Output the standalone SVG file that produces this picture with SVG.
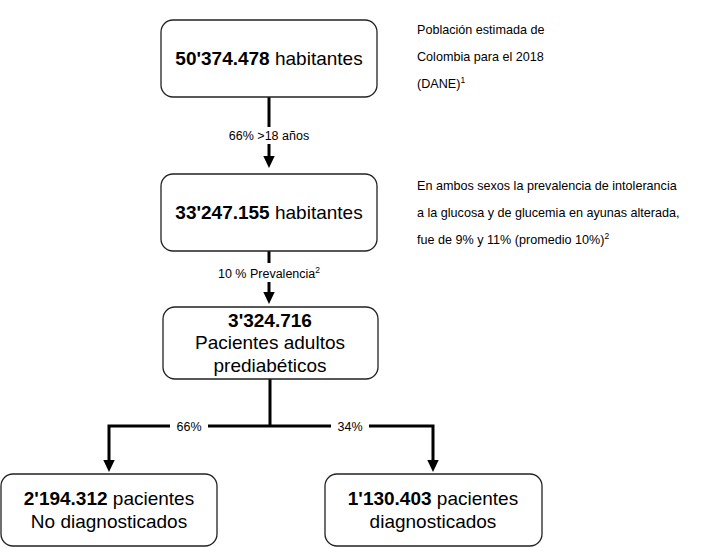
<svg xmlns="http://www.w3.org/2000/svg" width="708" height="548" viewBox="0 0 708 548">
<style>
text{font-family:"Liberation Sans",Arial,sans-serif;fill:#000}
.box{fill:#fff;stroke:#222;stroke-width:1.3}
.big{font-size:19px;text-anchor:middle}
.note{font-size:12.6px}
.lbl{font-size:12.5px;text-anchor:middle}
.ln{stroke:#000;stroke-width:3;fill:none}
</style>
<defs><marker id="a" markerWidth="5" markerHeight="5" refX="2" refY="2.5" orient="auto" markerUnits="strokeWidth"><path d="M0,0.6 L4,2.5 L0,4.4z" fill="#000"/></marker></defs>
<g id="connectors">
<path class="ln" d="M269,97 V162" marker-end="url(#a)"/>
<rect x="228" y="127" width="82" height="17" fill="#fff"/>
<text class="lbl" x="269" y="140">66% &gt;18 años</text>
<path class="ln" d="M269,251 V298" marker-end="url(#a)"/>
<rect x="208" y="263" width="124" height="19" fill="#fff"/>
<text class="lbl" x="269" y="278">10 % Prevalencia<tspan font-size="8.5" dy="-5">2</tspan></text>
<path class="ln" d="M270,379 V426 M270,426 H109 V466" marker-end="url(#a)"/>
<path class="ln" d="M270,426 H433 V466" marker-end="url(#a)"/>
<rect x="170" y="418" width="38" height="17" fill="#fff"/>
<text class="lbl" x="189" y="431">66%</text>
<rect x="331" y="418" width="38" height="17" fill="#fff"/>
<text class="lbl" x="350" y="431">34%</text>
</g>
<g id="n1"><rect class="box" x="161" y="20" width="216" height="77" rx="12"/>
<text class="big" x="269" y="65"><tspan font-weight="bold">50'374.478</tspan> habitantes</text></g>
<g id="n2"><rect class="box" x="161" y="174" width="216" height="77" rx="12"/>
<text class="big" x="269" y="219"><tspan font-weight="bold">33'247.155</tspan> habitantes</text></g>
<g id="n3"><rect class="box" x="163" y="307" width="215" height="72" rx="12"/>
<text class="big" x="270" y="327" font-weight="bold" font-size="18">3'324.716</text>
<text class="big" x="270" y="349" font-size="18">Pacientes adultos</text>
<text class="big" x="270" y="372" font-size="18">prediabéticos</text></g>
<g id="n4"><rect class="box" x="1" y="474" width="216" height="72" rx="12"/>
<text class="big" x="109" y="505" font-size="18"><tspan font-weight="bold">2'194.312</tspan> pacientes</text>
<text class="big" x="109" y="528" font-size="18">No diagnosticados</text></g>
<g id="n5"><rect class="box" x="325" y="474" width="217" height="72" rx="12"/>
<text class="big" x="433" y="505" font-size="18"><tspan font-weight="bold">1'130.403</tspan> pacientes</text>
<text class="big" x="433" y="528" font-size="18">diagnosticados</text></g>
<g id="notes">
<text class="note" x="417" y="34">Población estimada de</text>
<text class="note" x="417" y="61">Colombia para el 2018</text>
<text class="note" x="417" y="88">(DANE)<tspan font-size="8.5" dy="-5">1</tspan></text>
<text class="note" x="417" y="190">En ambos sexos la prevalencia de intolerancia</text>
<text class="note" x="417" y="217">a la glucosa  y de glucemia en ayunas alterada,</text>
<text class="note" x="417" y="244">fue de 9% y 11% (promedio 10%)<tspan font-size="8.5" dy="-5">2</tspan></text>
</g>
</svg>
